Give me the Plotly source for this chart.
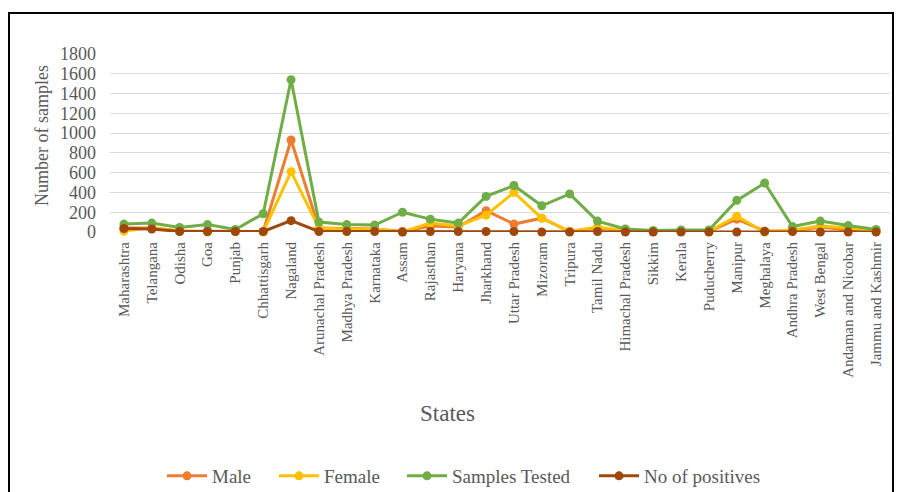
import plotly.graph_objects as go

states = [
    "Maharashtra", "Telangana", "Odisha", "Goa", "Punjab", "Chhattisgarh",
    "Nagaland", "Arunachal Pradesh", "Madhya Pradesh", "Karnataka", "Assam",
    "Rajasthan", "Haryana", "Jharkhand", "Uttar Pradesh", "Mizoram", "Tripura",
    "Tamil Nadu", "Himachal Pradesh", "Sikkim", "Kerala", "Puducherry",
    "Manipur", "Meghalaya", "Andhra Pradesh", "West Bengal",
    "Andaman and Nicobar", "Jammu and Kashmir",
]

male = [40, 40, 10, 10, 5, 5, 930, 40, 35, 30, 5, 60, 50, 215, 80, 140, 5,
        40, 10, 5, 5, 5, 130, 10, 10, 50, 20, 10]
female = [10, 45, 10, 0, 5, 0, 610, 40, 30, 30, 0, 90, 60, 170, 400, 140, 5,
          50, 10, 5, 5, 5, 160, 0, 20, 60, 40, 10]
samples_tested = [80, 90, 45, 75, 25, 185, 1540, 100, 75, 70, 200, 130, 90,
                  360, 470, 265, 385, 110, 30, 15, 20, 20, 320, 495, 55, 110,
                  65, 25]
positives = [35, 30, 5, 5, 5, 5, 115, 5, 5, 5, 0, 5, 5, 5, 5, 0, 0, 5, 0, 0,
             0, 0, 0, 5, 5, 0, 0, 0]

series = [
    ("Male", male, "#ED7D31"),
    ("Female", female, "#FFC000"),
    ("Samples Tested", samples_tested, "#70AD47"),
    ("No of positives", positives, "#9E480E"),
]

FONT = "Liberation Serif, Times New Roman, serif"
GREY = "#595959"

# plot area: x 110..890, y 54..232 in a 899x492 page
L, R, T, B = 110, 9, 54, 260
W, H = 899, 492
pw, ph = W - L - R, H - T - B


def px(x):
    return (x - L) / pw


def py(y):
    return (H - B - y) / ph


# left edge of each legend entry, in page pixels
legend_left = [162, 274, 402, 594]

fig = go.Figure()
legend_layout = {}
for i, (name, vals, col) in enumerate(series):
    key = "legend" if i == 0 else f"legend{i + 1}"
    fig.add_trace(go.Scatter(
        x=states, y=vals, name=name, mode="lines+markers",
        line=dict(color=col, width=3),
        marker=dict(color=col, size=9),
        cliponaxis=False, legend=key,
    ))
    legend_layout[key] = dict(
        orientation="h", x=px(legend_left[i]), y=py(476),
        xanchor="left", yanchor="middle",
        font=dict(size=19, family=FONT, color=GREY),
        itemwidth=40, bgcolor="rgba(0,0,0,0)",
    )

fig.update_layout(
    width=W, height=H,
    margin=dict(l=L, r=R, t=T, b=B, autoexpand=False),
    paper_bgcolor="white", plot_bgcolor="white",
    font=dict(family=FONT, color=GREY),
    showlegend=True,
    xaxis=dict(
        type="category", range=[-0.5, len(states) - 0.5],
        tickangle=-90, tickfont=dict(size=15, family=FONT, color=GREY),
        showgrid=False, showline=False, zeroline=False,
        ticklabelstandoff=6,
    ),
    yaxis=dict(
        range=[0, 1800], dtick=200, tickformat="d",
        tickfont=dict(size=18, family=FONT, color=GREY),
        showgrid=True, gridcolor="#D9D9D9", gridwidth=1,
        zeroline=False, showline=False, ticklabelstandoff=13,
    ),
    annotations=[
        dict(text="Number of samples", xref="paper", yref="paper",
             x=px(42), y=py(136), textangle=-90, showarrow=False,
             font=dict(size=18, family=FONT, color=GREY),
             xanchor="center", yanchor="middle"),
        dict(text="States", xref="paper", yref="paper",
             x=px(447), y=py(413), showarrow=False,
             font=dict(size=23, family=FONT, color=GREY),
             xanchor="center", yanchor="middle"),
    ],
    shapes=[
        dict(type="rect", xref="paper", yref="paper",
             x0=px(9), x1=px(893), y0=py(520), y1=py(13),
             line=dict(color="black", width=2), fillcolor="rgba(0,0,0,0)",
             layer="below"),
    ],
    **legend_layout,
)

fig.write_html("out.html")
